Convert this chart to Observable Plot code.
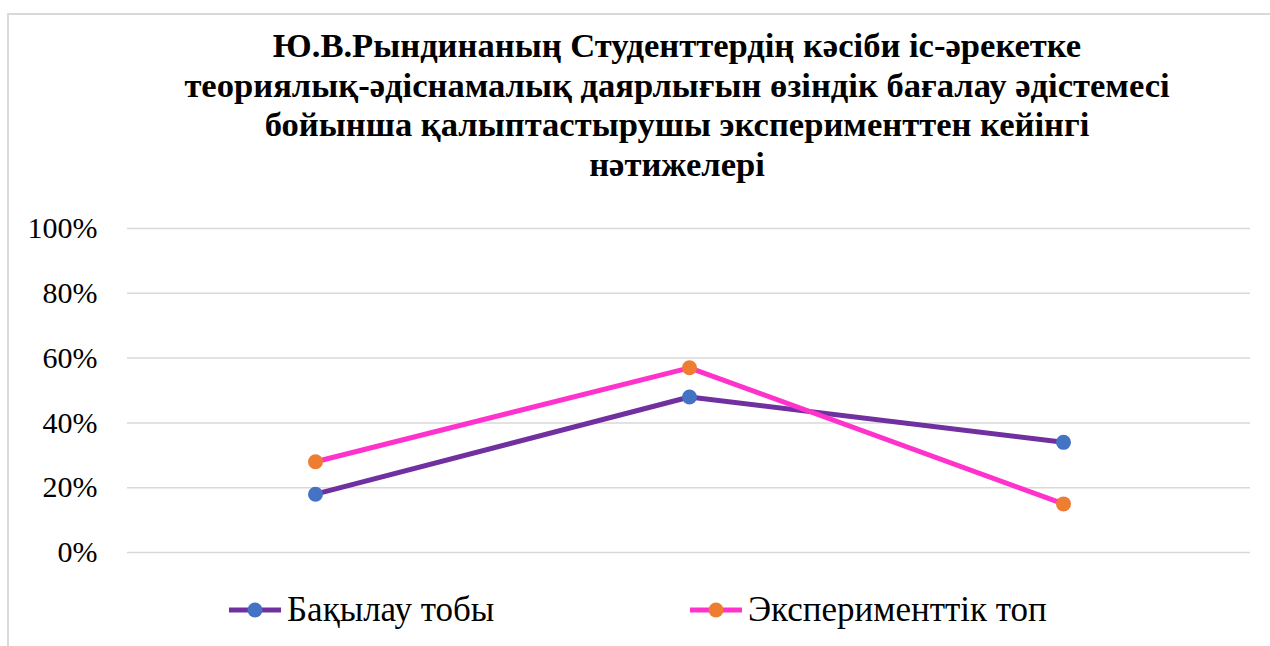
<!DOCTYPE html>
<html>
<head>
<meta charset="utf-8">
<script src="https://cdn.jsdelivr.net/npm/d3@7"></script>
<script src="https://cdn.jsdelivr.net/npm/@observablehq/plot@0.6"></script>
<style>
  html, body { margin: 0; padding: 0; background: #fff; width: 1270px; height: 646px; overflow: hidden; }
  body { position: relative; font-family: "Liberation Serif", "Times New Roman", serif; }
  #frame { position: absolute; left: 7px; top: 13px; width: 1400px; height: 700px;
           border-left: 2px solid #d9d9d9; border-top: 2px solid #d9d9d9; box-sizing: border-box; }
  #title { position: absolute; left: 0; width: 1354px; top: 26px; text-align: center;
           font-weight: bold; font-size: 34.6px; line-height: 39.7px; color: #000; }
  #chart { position: absolute; left: 0; top: 190px; }
  .leg { position: absolute; display: flex; align-items: center; height: 40px; top: 590px;
         font-size: 35px; color: #000; white-space: nowrap; }
  .leg svg { margin-right: 6px; }
</style>
</head>
<body>
<div id="frame"></div>
<div id="title"></div>
<div id="chart"></div>
<div id="legend"></div>
<script>
const titleLines = [
  "Ю.В.Рындинаның Студенттердің кәсіби іс-әрекетке",
  "теориялық-әдіснамалық даярлығын өзіндік бағалау әдістемесі",
  "бойынша қалыптастырушы эксперименттен кейінгі",
  "нәтижелері"
];
const categories = ["1", "2", "3"];
const seriesNames = ["Бақылау тобы", "Эксперименттік топ"];
const controlValues = [18, 48, 34];
const experimentValues = [28, 57, 15];
const yTicks = [0, 20, 40, 60, 80, 100];
const lineColors = ["#7030A0", "#FF33CC"];
const markerColors = ["#4472C4", "#ED7D31"];
const fontStack = "'Liberation Serif', 'Times New Roman', serif";

document.getElementById("title").innerHTML = titleLines.join("<br>");

const data = [];
[controlValues, experimentValues].forEach((vals, si) => {
  vals.forEach((v, i) => data.push({series: seriesNames[si], cat: categories[i], value: v}));
});

const chart = Plot.plot({
  width: 1270,
  height: 400,
  marginLeft: 127,
  marginRight: 20,
  marginTop: 38,
  marginBottom: 38,
  style: {fontFamily: fontStack, fontSize: "30px", color: "#000", background: "transparent"},
  x: {type: "point", domain: categories, padding: 0.5, axis: null},
  y: {domain: [0, 100], ticks: yTicks, tickFormat: d => d + "%", tickSize: 0, tickPadding: 30, label: null},
  marks: [
    Plot.gridY(yTicks, {stroke: "#d9d9d9", strokeOpacity: 1, strokeWidth: 1.5}),
    Plot.axisY(yTicks, {tickFormat: d => d + "%", tickSize: 0, tickPadding: 30, fontSize: 30, fontFamily: fontStack, label: null, fill: "#000"}),
    Plot.line(data, {x: "cat", y: "value", z: "series",
      stroke: d => lineColors[seriesNames.indexOf(d.series)], strokeWidth: 5, strokeLinejoin: "round"}),
    Plot.dot(data, {x: "cat", y: "value",
      fill: d => markerColors[seriesNames.indexOf(d.series)], r: 7.5, stroke: "none"})
  ]
});
document.getElementById("chart").appendChild(chart);

const legendX = [229, 690];
const legend = document.getElementById("legend");
seriesNames.forEach((name, i) => {
  const item = document.createElement("div");
  item.className = "leg";
  item.style.left = legendX[i] + "px";
  item.innerHTML = `<svg width="52" height="18"><line x1="0" y1="9" x2="52" y2="9" stroke="${lineColors[i]}" stroke-width="5"/><circle cx="26" cy="9" r="7.5" fill="${markerColors[i]}"/></svg><span>${name}</span>`;
  legend.appendChild(item);
});
</script>
</body>
</html>
